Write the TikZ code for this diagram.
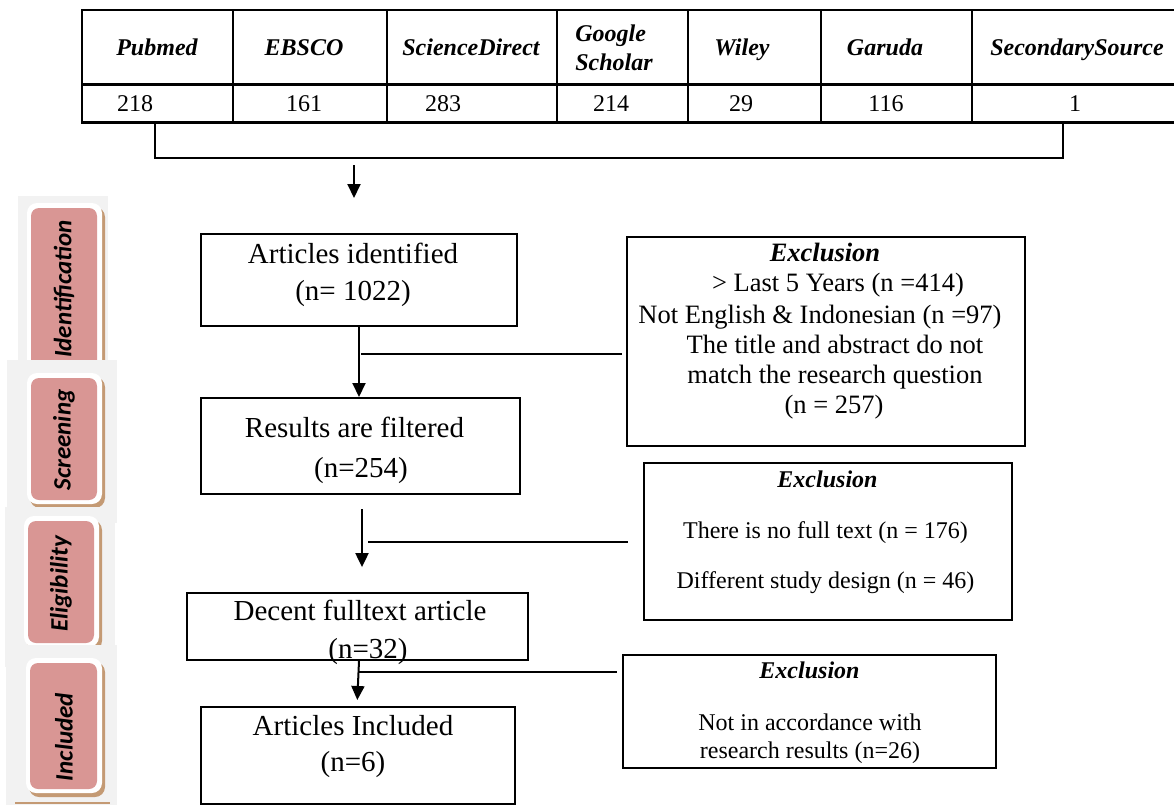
\documentclass[tikz,border=0pt]{standalone}
\usepackage{fontspec}
\setmainfont{Liberation Serif}
\newfontfamily\calfont{Carlito}
\usetikzlibrary{arrows.meta,fit}
\definecolor{pinkfill}{HTML}{D99694}
\definecolor{tanshadow}{HTML}{C49A74}
\definecolor{panelgrey}{HTML}{F2F2F2}
\begin{document}
\begin{tikzpicture}[x=0.5pt,y=-0.5pt,
  box/.style={draw=black,line width=1pt,inner sep=0pt},
  bigtxt/.style={font=\fontsize{14.5}{18}\selectfont,anchor=base,inner sep=0pt},
  midtxt/.style={font=\fontsize{13.25}{15}\selectfont,anchor=base,inner sep=0pt},
  smltxt/.style={font=\fontsize{12}{14}\selectfont,anchor=base,inner sep=0pt},
  hdtxt/.style={font=\fontsize{12}{14}\selectfont\bfseries\itshape,anchor=base,inner sep=0pt},
  hdmid/.style={font=\fontsize{13.25}{15}\selectfont\bfseries\itshape,anchor=base,inner sep=0pt},
  conn/.style={line width=1pt},
  arr/.style={line width=1pt,-{Triangle[width=6.5pt,length=7pt]}},
  tabline/.style={line width=1.3pt},
  sidetxt/.style={font=\fontsize{12.5}{14}\calfont\bfseries\itshape,rotate=90,inner sep=0pt},
  greypanel/.style={fill=panelgrey},
  rim/.style={fill=white,rounded corners=5pt},
  shadowrim/.style={fill=tanshadow,rounded corners=5pt},
  pinkrect/.style={fill=pinkfill,rounded corners=4pt}
]
\useasboundingbox (0,0) rectangle (1174,809);
\fill[white] (0,0) rectangle (1174,809);

% ---------------- side panels ----------------
\foreach \nm/\gx/\gy/\gX/\gY/\px/\py/\pX/\pY/\tx/\ty/\lbl in {
  1/18/196/108/360/31/208/97/372/64/289/Identification,
  2/7/360/117/523/31/378/97/500/64/440/Screening,
  3/5/507/115/667/28/521/94/643/61/584/Eligibility,
  4/6/645/117/805/30/663/97/789/64/737/Included}{
  \fill[greypanel] (\gx,\gy) rectangle (\gX,\gY);
  \fill[shadowrim] (\px-4+3,\py-5+4) rectangle (\pX+5+3,\pY+4+4);
  \fill[rim] (\px-4,\py-5) rectangle (\pX+5,\pY+4);
  \fill[pinkrect] (\px,\py) rectangle (\pX,\pY);
  \node[sidetxt] (side\nm) at (\tx,\ty) {\lbl};
}
\draw[tanshadow,line width=1pt] (15,803) -- (110,803);

% ---------------- table ----------------
\draw[tabline] (1180,10) -- (82,10) -- (82,122.7) -- (1180,122.7);
\draw[tabline] (82,84.3) -- (1180,84.3);
\foreach \cx in {233,387,557,688,821,972}{
  \draw[tabline] (\cx,10) -- (\cx,122.7);
}
\node[hdtxt] (h1) at (157,55) {Pubmed};
\node[hdtxt] (h2) at (304,55) {EBSCO};
\node[hdtxt] (h3) at (471,55) {ScienceDirect};
\node[hdtxt,anchor=base west] (h4a) at (575,41.7) {Google};
\node[hdtxt,anchor=base west] (h4b) at (575,70) {Scholar};
\node[hdtxt] (h5) at (742,55) {Wiley};
\node[hdtxt] (h6) at (885,55) {Garuda};
\node[hdtxt] (h7) at (1077,55) {SecondarySource};
\foreach \i/\cx/\v in {1/135/218,2/304/161,3/443/283,4/611/214,5/741/29,6/886/116,7/1075/1}{
  \node[smltxt] (v\i) at (\cx,111.7) {\v};
}
\coordinate (br1) at (155,122.7);
\coordinate (br2) at (1063,122.7);
\draw[conn] (br1) -- ++(0,35) -| (br2);
\coordinate (a0) at (354,165);
\coordinate (a1) at (354,198);
\draw[arr] (a0) -- (a1);

% ---------------- main boxes ----------------
\node[box,fit={(200.7,234) (517.3,326)}] (b1) {};
\node[box,fit={(201,398) (520,494)}] (b2) {};
\node[box,fit={(186.7,592.7) (528.3,660)}] (b3) {};
\node[box,fit={(200.7,706.7) (515,804)}] (b4) {};
\node[box,fit={(627.3,236.7) (1025,446)}] (e1) {};
\node[box,fit={(644,463) (1012,620)}] (e2) {};
\node[box,fit={(623,655) (996,767.7)}] (e3) {};

\node[bigtxt] (b1t1) at (353,263) {Articles identified};
\node[bigtxt] (b1t2) at (353,300) {(n= 1022)};
\node[bigtxt] (b2t1) at (354.5,437) {Results are filtered};
\node[bigtxt] (b2t2) at (361,477) {(n=254)};
\node[bigtxt] (b3t1) at (360,620) {Decent fulltext article};
\node[bigtxt] (b3t2) at (368,658) {(n=32)};
\node[bigtxt] (b4t1) at (353,735) {Articles Included};
\node[bigtxt] (b4t2) at (353,771.7) {(n=6)};

\node[hdmid] (e1t0) at (825,261) {Exclusion};
\node[midtxt] (e1t1) at (838,291.7) {> Last 5 Years (n =414)};
\node[midtxt] (e1t2) at (820,323) {Not English \& Indonesian (n =97)};
\node[midtxt] (e1t3) at (835,353) {The title and abstract do not};
\node[midtxt] (e1t4) at (835,383) {match the research question};
\node[midtxt] (e1t5) at (834,413) {(n = 257)};

\node[hdtxt] (e2t0) at (827.5,487) {Exclusion};
\node[smltxt] (e2t1) at (825.5,538) {There is no full text (n = 176)};
\node[smltxt] (e2t2) at (825.5,588) {Different study design (n = 46)};

\node[hdtxt] (e3t0) at (809.5,678) {Exclusion};
\node[smltxt] (e3t1) at (810,730) {Not in accordance with};
\node[smltxt] (e3t2) at (810,758) {research results (n=26)};

% ---------------- connectors ----------------
\draw[arr] (b1.south) -- (b1.south |- b2.north);
\coordinate (j1) at (361,354.3);
\draw[conn,shorten >=2.3pt] (j1) -- (j1 -| e1.west);

\draw[arr,shorten <=7pt,shorten >=12.3pt] ([xshift=0.75pt]b2.south) -- ([xshift=0.75pt]b2.south |- b3.north);
\coordinate (j2) at (368,542.3);
\draw[conn,shorten >=7.5pt] (j2) -- (j2 -| e2.west);

\draw[arr,shorten >=2.85pt] ([xshift=0.75pt]b3.south) -- ([xshift=-0.4pt]b4.north);
\coordinate (j3) at (358,671.7);
\draw[conn,shorten >=2.5pt] (j3) -- (j3 -| e3.west);
\end{tikzpicture}
\end{document}
